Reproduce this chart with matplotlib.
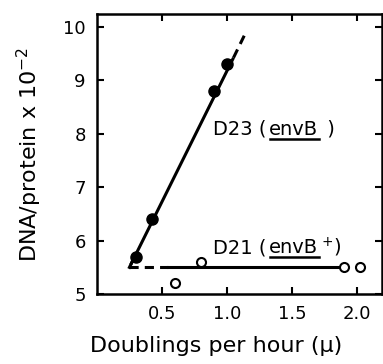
import matplotlib
matplotlib.use("Agg")
import matplotlib.pyplot as plt

# D23 (envB) - filled circles
d23_mu = [0.30, 0.42, 0.90, 1.00]
d23_dna = [5.7, 6.4, 8.8, 9.3]
# D21 (envB+) - open circles
d21_mu = [0.60, 0.80, 1.90, 2.02]
d21_dna = [5.2, 5.6, 5.5, 5.5]

# fitted lines (solid part, dashed extrapolations)
d23_fit_x = [0.26, 1.05]
d23_fit_y = [5.55, 9.42]
d23_ext_x = [1.05, 1.15]
d23_ext_y = [9.42, 9.92]
d21_fit_x = [0.55, 1.90]
d21_fit_y = [5.5, 5.5]
d21_ext_x = [0.25, 0.55]
d21_ext_y = [5.5, 5.5]

plt.rcParams["font.family"] = ["DejaVu Sans"]

fig = plt.figure(figsize=(3.83, 3.64), dpi=100)
ax = fig.add_axes([0.253, 0.192, 0.744, 0.77])

ax.plot(d23_fit_x, d23_fit_y, color="black", lw=2.2, solid_capstyle="butt")
ax.plot(d23_ext_x, d23_ext_y, color="black", lw=2.2, ls=(0, (3, 2)))
ax.plot(d21_fit_x, d21_fit_y, color="black", lw=2.2)
ax.plot(d21_ext_x, d21_ext_y, color="black", lw=2.2, ls=(0, (3, 2)))
ax.plot([0.25, 0.27], [5.5, 5.6], color="black", lw=2.2)

ax.plot(d23_mu, d23_dna, "o", color="black", ms=8)
ax.plot(d21_mu, d21_dna, "o", mfc="white", mec="black", mew=1.5, ms=6.5)

ax.set_xlim(0, 2.19)
ax.set_ylim(5, 10.24)
ax.set_xticks([0.5, 1.0, 1.5, 2.0])
ax.set_xticklabels(["0.5", "1.0", "1.5", "2.0"])
ax.set_yticks([5, 6, 7, 8, 9, 10])
ax.tick_params(direction="in", length=5, width=1.5, top=True, right=True,
               labelsize=13, pad=8)
for s in ax.spines.values():
    s.set_linewidth(1.8)


def label(x, y, parts):
    # draw text pieces one after another; underline the middle piece
    fig.canvas.draw()
    r = fig.canvas.get_renderer()
    px, py = ax.transData.transform((x, y))
    for i, p in enumerate(parts):
        t = ax.text(px, py, p, fontsize=14, va="baseline", ha="left",
                    transform=None)
        bb = t.get_window_extent(renderer=r)
        if i == 1:
            ax.plot([bb.x0 + 1, bb.x1 + 1], [py - 4, py - 4], color="black",
                    lw=1.8, transform=None)
        px = bb.x1 + 3


label(0.89, 7.98, ["D23 (", "envB", " )"])
label(0.89, 5.76, ["D21 (", "envB", "$^{+}$)"])

ax.set_xlabel("Doublings per hour (\u00b5)", fontsize=16)
ax.xaxis.set_label_coords(0.42, -0.15)
ax.xaxis.label.set_va("top")
ax.set_ylabel("DNA/protein x 10$^{-2}$", fontsize=16, labelpad=14)

fig.savefig("out.png", dpi=100)
